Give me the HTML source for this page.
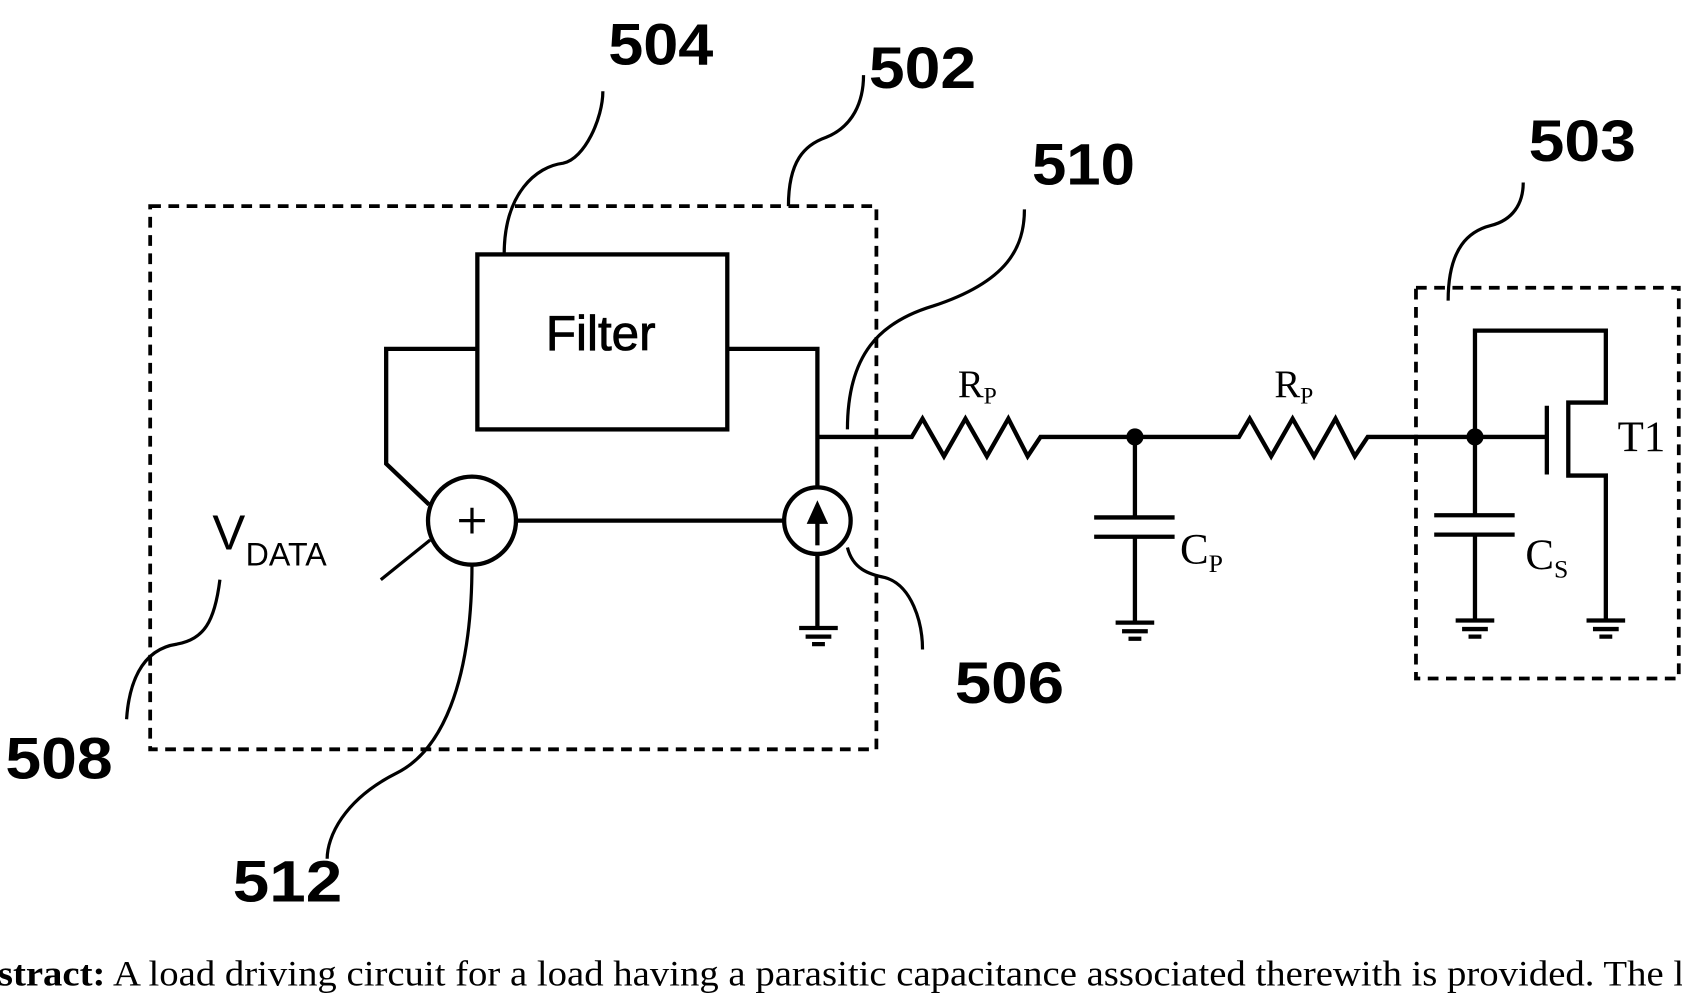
<!DOCTYPE html>
<html><head><style>
html,body{margin:0;padding:0;background:#fff;}
svg{display:block;}
.lbl{font-family:"Liberation Sans",sans-serif;font-weight:bold;font-size:54px;}
.ser{font-family:"Liberation Serif",serif;}
</style></head><body>
<svg width="1682" height="993" viewBox="0 0 1568 925" preserveAspectRatio="none" xmlns="http://www.w3.org/2000/svg">
<g fill="none" stroke="#000" stroke-width="4" stroke-linejoin="miter">
<rect x="140" y="192" width="677" height="506" stroke-dasharray="10,7" stroke-width="3.5"/>
<rect x="1320" y="268" width="245" height="364" stroke-dasharray="10,7" stroke-width="3.5"/>
<rect x="445" y="237" width="233" height="163"/>
<polyline points="445,325 360,325 360,432 400,470"/>
<polyline points="678,325 762,325 762,455"/>
<circle cx="440" cy="485" r="41"/>
<path d="M428,485 H452 M440,473 V497" stroke-width="3"/>
<line x1="481" y1="485" x2="732" y2="485"/>
<circle cx="762" cy="485" r="31"/>
<line x1="762" y1="508" x2="762" y2="478" stroke-width="4"/>
<line x1="762" y1="516" x2="762" y2="585"/>
<path d="M745,585 H781 M751,593 H775 M757,600 H769"/>
<line x1="355" y1="540" x2="401" y2="503" stroke-width="3"/>
<polyline points="762,407 850,407 860,390 880,425 900,390 920,425 940,390 958,425 970,407 1155,407 1165,390 1185,425 1205,390 1225,425 1245,390 1263,425 1275,407 1442,407"/>
<line x1="1058" y1="407" x2="1058" y2="482"/>
<line x1="1020" y1="482" x2="1095" y2="482"/>
<line x1="1020" y1="500" x2="1095" y2="500"/>
<line x1="1058" y1="500" x2="1058" y2="580"/>
<path d="M1040,580 H1076 M1046,588 H1070 M1052,595 H1064"/>
<polyline points="1375,480 1375,308 1497,308 1497,375 1462,375 1462,443 1497,443 1497,578"/>
<line x1="1442" y1="378" x2="1442" y2="442"/>
<line x1="1337" y1="480" x2="1412" y2="480"/>
<line x1="1337" y1="498" x2="1412" y2="498"/>
<line x1="1375" y1="498" x2="1375" y2="578"/>
<path d="M1357,578 H1393 M1363,586 H1387 M1369,593 H1381"/>
<path d="M1479,578 H1515 M1485,586 H1509 M1491,593 H1503"/>
<g stroke-width="3">
<path d="M470,237 C470,180 500,155 525,152 C545,148 562,110 562,85"/>
<path d="M735,192 C735,150 750,135 770,128 C795,118 805,95 805,70"/>
<path d="M790,400 C790,330 820,300 870,285 C940,262 955,230 955,195"/>
<path d="M1350,280 C1350,230 1370,215 1390,210 C1410,205 1420,190 1420,170"/>
<path d="M790,510 C795,530 810,535 825,538 C850,545 860,580 860,605"/>
<path d="M205,540 C200,580 190,595 165,600 C130,605 120,640 118,670"/>
<path d="M440,525 C440,640 410,700 370,720 C320,745 305,780 305,800"/>
</g>
</g>
<circle cx="1058" cy="407" r="8"/>
<circle cx="1375" cy="407" r="8"/>
<path d="M762,466 L752,488 L772,488 Z"/>
<text x="560" y="326" text-anchor="middle" font-family="Liberation Sans,sans-serif" font-size="46" stroke="#000" stroke-width="0.8">Filter</text>
<text x="198" y="512" font-family="Liberation Sans,sans-serif" font-size="46">V</text>
<text x="229" y="527" font-family="Liberation Sans,sans-serif" font-size="30">DATA</text>
<text class="ser" x="893" y="370" font-size="36">R<tspan font-size="22" dy="6">P</tspan></text>
<text class="ser" x="1188" y="370" font-size="36">R<tspan font-size="22" dy="6">P</tspan></text>
<text class="ser" x="1100" y="525" font-size="40">C<tspan font-size="24" dy="8">P</tspan></text>
<text class="ser" x="1422" y="530" font-size="40">C<tspan font-size="24" dy="8">S</tspan></text>
<text class="ser" x="1508" y="420" font-size="40">T1</text>
<text class="lbl" x="567" y="60" textLength="98" lengthAdjust="spacingAndGlyphs">504</text>
<text class="lbl" x="810" y="82" textLength="100" lengthAdjust="spacingAndGlyphs">502</text>
<text class="lbl" x="962" y="172" textLength="96" lengthAdjust="spacingAndGlyphs">510</text>
<text class="lbl" x="1425" y="150" textLength="100" lengthAdjust="spacingAndGlyphs">503</text>
<text class="lbl" x="890" y="655" textLength="102" lengthAdjust="spacingAndGlyphs">506</text>
<text class="lbl" x="5" y="725" textLength="100" lengthAdjust="spacingAndGlyphs">508</text>
<text class="lbl" x="217" y="840" textLength="102" lengthAdjust="spacingAndGlyphs">512</text>
<text class="ser" x="-2" y="918" font-size="33" textLength="1572" lengthAdjust="spacingAndGlyphs"><tspan font-weight="bold">stract:</tspan> A load driving circuit for a load having a parasitic capacitance associated therewith is provided.  The l</text>
</svg>
</body></html>
